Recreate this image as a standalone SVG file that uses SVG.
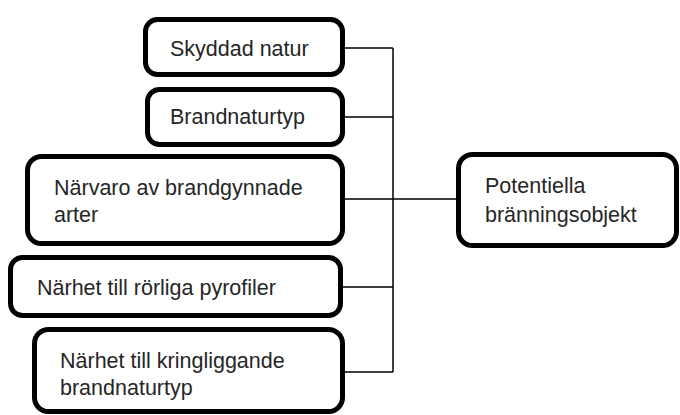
<svg xmlns="http://www.w3.org/2000/svg" width="680" height="415" viewBox="0 0 680 415">
<style>
.box{fill:#fff;stroke:#000;stroke-width:5}
.t{font-family:"Liberation Sans",Arial,sans-serif;font-size:21.5px;fill:#262626}
.c{fill:none;stroke:#000;stroke-width:1.5}
</style>
<rect width="680" height="415" fill="#fff"/>
<g id="connectors">
<path class="c" d="M345 48H393M345 117H393M345 199H456M343 287H393M345 372H393M393 48V372"/>
</g>
<g id="n1"><rect class="box" x="145.5" y="19.5" width="197" height="55" rx="12"/><text class="t" x="170" y="56">Skyddad natur</text></g>
<g id="n2"><rect class="box" x="147.5" y="89.5" width="195" height="55" rx="12"/><text class="t" x="170" y="124">Brandnaturtyp</text></g>
<g id="n3"><rect class="box" x="27.5" y="156.5" width="315" height="87" rx="14"/><text class="t" x="54" y="195">Närvaro av brandgynnade</text><text class="t" x="54" y="222">arter</text></g>
<g id="n4"><rect class="box" x="10.5" y="257.5" width="330" height="58" rx="12"/><text class="t" x="37" y="295">Närhet till rörliga pyrofiler</text></g>
<g id="n5"><rect class="box" x="34.5" y="329.5" width="308" height="82" rx="14"/><text class="t" x="60" y="368">Närhet till kringliggande</text><text class="t" x="60" y="395">brandnaturtyp</text></g>
<g id="n6"><rect class="box" x="458.5" y="154.5" width="218" height="91" rx="14"/><text class="t" x="485" y="193">Potentiella</text><text class="t" x="485" y="222">bränningsobjekt</text></g>
</svg>
